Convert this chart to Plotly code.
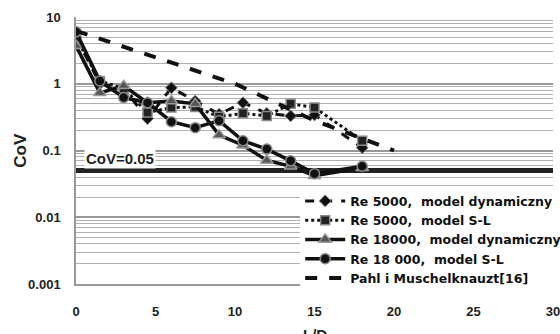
import plotly.graph_objects as go

ld = [0, 1.5, 3, 4.5, 6, 7.5, 9, 10.5, 12, 13.5, 15, 18]
re5000_dyn = [5.0, 1.0, 0.85, 0.30, 0.87, 0.55, 0.35, 0.52, 0.36, 0.33, 0.34, 0.11]
re5000_sl = [4.9, 1.1, 0.85, 0.37, 0.44, 0.45, 0.32, 0.36, 0.33, 0.50, 0.44, 0.14]
re18000_dyn = [3.7, 0.73, 0.93, 0.52, 0.55, 0.50, 0.17, 0.12, 0.071, 0.058, 0.042, 0.055]
re18000_sl = [6.0, 1.1, 0.62, 0.52, 0.27, 0.22, 0.28, 0.14, 0.105, 0.07, 0.045, 0.058]
pahl_x = [0, 5, 10, 15, 20]
pahl_y = [6.2, 2.5, 1.0, 0.28, 0.1]
cov_limit = 0.05
names = ["Re 5000,  model dynamiczny", "Re 5000,  model S-L",
         "Re 18000,  model dynamiczny", "Re 18 000,  model S-L",
         "Pahl i Muschelknauzt[16]"]
ytick_vals = [0.001, 0.01, 0.1, 1, 10]
ytick_text = ["0.001", "0.01", "0.1", "1", "10"]

minor_vals = [k * 10 ** d for d in range(-3, 1) for k in range(2, 10)]

fig = go.Figure()
fig.add_trace(go.Scatter(x=[0, 30], y=[cov_limit, cov_limit], mode="lines",
                         line=dict(color="#222", width=5), showlegend=False, hoverinfo="skip"))
fig.add_trace(go.Scatter(x=ld, y=re5000_dyn, name=names[0], mode="lines+markers",
                         line=dict(color="#111", width=3, dash="dash"),
                         marker=dict(symbol="diamond", size=9, color="#111", line=dict(color="#777", width=1))))
fig.add_trace(go.Scatter(x=ld, y=re5000_sl, name=names[1], mode="lines+markers",
                         line=dict(color="#111", width=3, dash="dot"),
                         marker=dict(symbol="square", size=9, color="#222", line=dict(color="#888", width=1.5))))
fig.add_trace(go.Scatter(x=ld, y=re18000_dyn, name=names[2], mode="lines+markers",
                         line=dict(color="#111", width=3.5),
                         marker=dict(symbol="triangle-up", size=11, color="#555", line=dict(color="#999", width=1.5))))
fig.add_trace(go.Scatter(x=ld, y=re18000_sl, name=names[3], mode="lines+markers",
                         line=dict(color="#111", width=3.5),
                         marker=dict(symbol="circle", size=10, color="#111", line=dict(color="#888", width=1.5))))
fig.add_trace(go.Scatter(x=pahl_x, y=pahl_y, name=names[4], mode="lines",
                         line=dict(color="#111", width=4, dash="dash")))

fig.add_annotation(x=0.5, y=-1.12, xref="x", yref="y", text="<b>CoV=0.05</b>", showarrow=False,
                   xanchor="left", yanchor="middle", bgcolor="white",
                   font=dict(family="Liberation Sans", size=15, color="#222"), borderpad=1)
fig.add_annotation(x=-0.117, y=0.50, xref="paper", yref="paper", text="<b>CoV</b>", showarrow=False,
                   textangle=-90, xanchor="center", yanchor="middle",
                   font=dict(family="Liberation Sans", size=17, color="#222"))
fig.add_annotation(x=0.5, y=-0.19, xref="paper", yref="paper", text="<b>L/D</b>", showarrow=False,
                   xanchor="center", yanchor="middle",
                   font=dict(family="Liberation Sans", size=15, color="#222"))

fig.update_layout(
    width=560, height=334,
    margin=dict(l=76, r=7, t=17, b=50, autoexpand=False),
    plot_bgcolor="white", paper_bgcolor="white",
    font=dict(family="Liberation Sans", size=13, color="#222"),
    legend=dict(x=0.47, y=0.366, xanchor="left", yanchor="top", bgcolor="white",
                font=dict(family="DejaVu Sans", size=12.5, color="#111", weight="bold"), tracegroupgap=0,
                itemwidth=40),
    xaxis=dict(range=[0, 30], dtick=5, showgrid=False, showline=True, linecolor="#999", linewidth=1.5,
               tickfont=dict(family="Liberation Sans", size=13, color="#222", weight="bold"),
               ticks="outside", ticklen=15, tickcolor="rgba(0,0,0,0)", zeroline=False,
               ticklabeloverflow="allow"),
    yaxis=dict(type="log", range=[-3, 1], tickvals=ytick_vals, ticktext=ytick_text,
               showgrid=True, gridcolor="#999", gridwidth=1.5, showline=True, linecolor="#999", linewidth=1.5,
               tickfont=dict(family="Liberation Sans", size=13, color="#222", weight="bold"),
               ticks="outside", ticklen=11, tickcolor="rgba(0,0,0,0)", zeroline=False,
               minor=dict(tickvals=minor_vals, showgrid=True, gridcolor="#b0b0b0", gridwidth=1)),
)
fig.write_html("out.html", config={"displayModeBar": False},
               post_script="document.body.style.margin='0';document.body.style.overflow='hidden';")
